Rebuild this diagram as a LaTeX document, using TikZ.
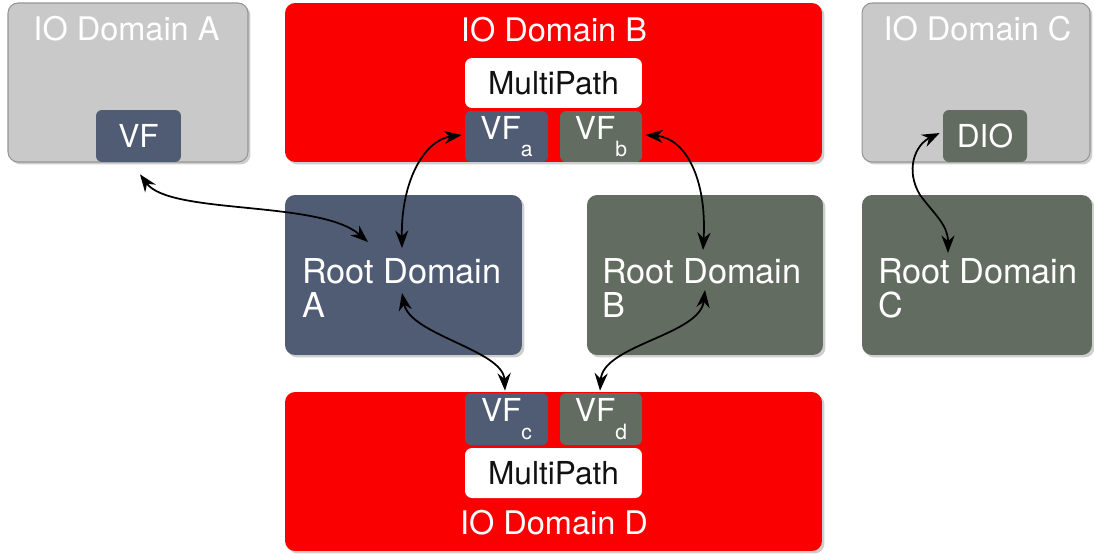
\documentclass[tikz,border=0pt]{standalone}
\usepackage{fontspec}
\setmainfont{TeX Gyre Heros}
\usetikzlibrary{arrows.meta,shadows}

\definecolor{iored}{RGB}{250,0,0}
\definecolor{slate}{RGB}{80,91,116}
\definecolor{moss}{RGB}{99,108,96}
\definecolor{pale}{RGB}{201,201,201}
\definecolor{paleedge}{RGB}{150,150,150}
\definecolor{ink}{RGB}{17,17,17}

\newcommand\subtxt[1]{\raisebox{-10pt}{\fontsize{12}{12}\selectfont #1}}

\tikzset{
  panel/.style={rectangle, rounded corners=0.2cm, inner sep=0pt,
    drop shadow={shadow xshift=0.05cm, shadow yshift=-0.05cm, opacity=0.35, fill=black!55}},
  greypanel/.style={panel, fill=pale, draw=paleedge, line width=0.6pt},
  redpanel/.style={panel, fill=iored},
  rootA/.style={panel, fill=slate},
  rootB/.style={panel, fill=moss},
  chip/.style={rectangle, rounded corners=0.12cm, inner sep=0pt, text=white,
    font=\fontsize{18}{20}\selectfont},
  chipA/.style={chip, fill=slate},
  chipB/.style={chip, fill=moss},
  mpath/.style={rectangle, rounded corners=0.14cm, inner sep=0pt, fill=white,
    text=ink, font=\fontsize{18}{20}\selectfont},
  title/.style={anchor=base, inner sep=0pt, text=white,
    font=\fontsize{18.5}{22}\selectfont},
  roottext/.style={anchor=west, inner sep=0pt, text=white, align=left,
    font=\fontsize{19.5}{19.3}\selectfont},
  link/.style={{Stealth[length=10pt,width=7.5pt]}-{Stealth[length=10pt,width=7.5pt]},
    line width=1pt, black}
}

\begin{document}
\begin{tikzpicture}[x=0.02cm,y=-0.02cm]
\useasboundingbox (0,0) rectangle (1094,558);

% IO domains along the top
\node[greypanel, minimum width=4.8cm, minimum height=3.18cm] (ioA) at (128,82.5) {};
\node[title] (ioAt) at (126.5,40) {IO Domain A};
\node[chipA, minimum width=1.7cm, minimum height=1.04cm] (vfA) at (138.5,136) {VF};

\node[redpanel, minimum width=10.74cm, minimum height=3.18cm] (ioB) at (553.5,82.5) {};
\node[title] (ioBt) at (554,41) {IO Domain B};
\node[mpath, minimum width=3.54cm, minimum height=1.0cm] (mpB) at (553.5,83) {MultiPath};
\node[chipA, minimum width=1.66cm, minimum height=1.02cm] (vfa) at (506.5,136.5) {VF\subtxt{a}};
\node[chipB, minimum width=1.64cm, minimum height=1.02cm] (vfb) at (601,136.5) {VF\subtxt{b}};

\node[greypanel, minimum width=4.56cm, minimum height=3.18cm] (ioC) at (976,82.5) {};
\node[title] (ioCt) at (977.5,40) {IO Domain C};
\node[chipB, minimum width=1.68cm, minimum height=1.04cm] (dio) at (985,136) {DIO};

% root domains in the middle row
\node[rootA, minimum width=4.74cm, minimum height=3.2cm] (rtA) at (403.5,275) {};
\node[roottext] (rtAt) at (302,288) {Root Domain\\A};
\node[rootB, minimum width=4.72cm, minimum height=3.2cm] (rtB) at (705,275) {};
\node[roottext] (rtBt) at (602,288) {Root Domain\\B};
\node[rootB, minimum width=4.6cm, minimum height=3.2cm] (rtC) at (977,275) {};
\node[roottext] (rtCt) at (878,288) {Root Domain\\C};

% IO domain at the bottom
\node[redpanel, minimum width=10.74cm, minimum height=3.18cm] (ioD) at (553.5,471.5) {};
\node[title] (ioDt) at (554,534) {IO Domain D};
\node[chipA, minimum width=1.66cm, minimum height=1.04cm] (vfc) at (506.5,419) {VF\subtxt{c}};
\node[chipB, minimum width=1.64cm, minimum height=1.04cm] (vfd) at (601,419) {VF\subtxt{d}};
\node[mpath, minimum width=3.54cm, minimum height=1.0cm] (mpD) at (553.5,473) {MultiPath};

% links between virtual functions and root domains
\draw[link] ([shift={(1.5,12)}]vfA.south) .. controls (170,215) and (320,200) .. ([shift={(-35.5,-33)}]rtA.center);
\draw[link] ([shift={(-3,-1.5)}]vfa.west) .. controls (425,140) and (401,180) .. ([shift={(-1.5,-27)}]rtA.center);
\draw[link] ([shift={(3,-1.5)}]vfb.east) .. controls (685,138) and (707,178) .. ([shift={(-2,-25)}]rtB.center);
\draw[link] ([shift={(-3,-3)}]dio.west) .. controls (915,145) and (905,170) .. (920,195)
  .. controls (935,215) and (948,225) .. ([shift={(-29,-22)}]rtC.center);
\draw[link] ([shift={(-1.5,18)}]rtA.center) .. controls (410,335) and (503,350) .. ([shift={(-1.5,-2)}]vfc.north);
\draw[link] ([shift={(0,15)}]rtB.center) .. controls (700,335) and (603,345) .. ([shift={(-1,-2)}]vfd.north);
\end{tikzpicture}
\end{document}
